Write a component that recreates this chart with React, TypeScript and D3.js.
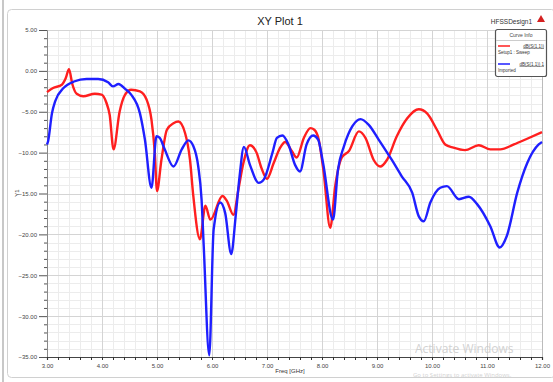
import React, { useRef, useEffect } from "react";
import * as d3 from "d3";

// S11 curves
const redFreq = [
  3.0, 3.11, 3.27, 3.34, 3.4, 3.46, 3.54, 3.66, 3.87, 3.99, 4.08, 4.14, 4.21,
  4.32, 4.42, 4.53, 4.69, 4.81, 4.9, 4.96, 5.0, 5.08, 5.18, 5.3, 5.39, 5.51,
  5.6, 5.66, 5.78, 5.88, 5.97, 6.19, 6.27, 6.39, 6.48, 6.57, 6.69, 6.81, 6.9,
  7.0, 7.12, 7.24, 7.33, 7.45, 7.54, 7.67, 7.79, 7.86, 7.94, 8.03, 8.15, 8.24,
  8.36, 8.49, 8.67, 8.79, 8.94, 9.06, 9.18, 9.36, 9.55, 9.76, 9.91, 10.09,
  10.24, 10.39, 10.6, 10.85, 11.06, 11.24, 11.49, 11.73, 12.0,
];
const redDb = [
  -2.6, -2.1, -1.7, -0.9, 0.2, -1.6, -2.8, -3.1, -2.8, -2.9, -3.9, -5.4, -9.6,
  -5.0, -2.9, -2.3, -2.5, -3.5, -6.0, -10.0, -14.7, -10.9, -7.2, -6.4, -6.2,
  -7.6, -10.9, -15.3, -20.6, -16.5, -18.2, -15.3, -15.9, -17.6, -14.5, -11.3,
  -9.1, -10.0, -11.9, -13.2, -11.3, -9.4, -8.7, -9.8, -10.6, -8.2, -7.0, -7.2,
  -8.4, -12.4, -19.2, -14.1, -10.6, -9.8, -7.4, -8.2, -10.9, -11.7, -10.9,
  -8.0, -5.8, -4.7, -5.2, -7.2, -9.0, -9.4, -9.7, -9.1, -9.6, -9.6, -9.0,
  -8.3, -7.5,
];

const blueFreq = [
  3.0, 3.02, 3.09, 3.15, 3.3, 3.49, 3.72, 3.93, 4.11, 4.2, 4.3, 4.42, 4.53,
  4.69, 4.78, 4.9, 4.99, 5.05, 5.14, 5.3, 5.45, 5.57, 5.66, 5.75, 5.81, 5.85,
  5.95, 6.03, 6.15, 6.24, 6.35, 6.43, 6.5, 6.58, 6.69, 6.85, 6.94, 7.1, 7.18,
  7.28, 7.39, 7.51, 7.6, 7.72, 7.84, 7.93, 8.02, 8.2, 8.29, 8.4, 8.55, 8.7,
  8.85, 9.03, 9.27, 9.45, 9.64, 9.76, 9.85, 9.97, 10.15, 10.27, 10.49, 10.67,
  10.82, 11.06, 11.23, 11.36, 11.55, 11.73, 11.94, 12.0,
];
const blueDb = [
  -9.0, -8.6, -5.2, -3.7, -2.1, -1.3, -1.0, -1.0, -1.4, -1.9, -1.6, -2.2,
  -2.9, -5.2, -8.4, -14.3, -8.0, -8.2, -9.6, -11.7, -9.6, -8.5, -9.2, -11.7,
  -15.7, -21.5, -34.8, -19.4, -16.1, -17.4, -22.4, -17.8, -13.0, -9.3, -11.5,
  -13.7, -13.3, -10.0, -8.2, -7.9, -9.0, -11.5, -12.3, -9.0, -7.9, -8.4,
  -11.3, -18.2, -12.1, -9.2, -6.8, -5.9, -6.6, -8.4, -10.9, -12.9, -14.9,
  -17.8, -18.4, -16.1, -14.3, -14.1, -15.7, -15.4, -16.3, -19.0, -21.6, -20.2,
  -14.9, -11.3, -9.0, -8.7,
];

const xTicks = [3, 4, 5, 6, 7, 8, 9, 10, 11, 12];
const yTicks = [5, 0, -5, -10, -15, -20, -25, -30, -35];

const seriesNames = ["dB(S(1,1))", "dB(S(1,1)) 1"];
const seriesSubs = ["Setup1 : Sweep", "Imported"];
const seriesColors = ["#ff1f1f", "#1f1fff"];

const App = () => {
  const svgRef = useRef(null);

  useEffect(() => {
    const width = 553;
    const height = 382;
    const plot = { left: 47, right: 542, top: 30, bottom: 357 };

    const svg = d3.select(svgRef.current);
    svg.selectAll("*").remove();

    svg
      .append("rect")
      .attr("width", width)
      .attr("height", height)
      .attr("fill", "#ffffff");

    // window edge + outer frame
    svg
      .append("line")
      .attr("x1", 3)
      .attr("x2", 3)
      .attr("y1", 0)
      .attr("y2", height)
      .attr("stroke", "#c8c8c8")
      .attr("stroke-width", 2);
    svg
      .append("rect")
      .attr("x", 7.5)
      .attr("y", 9.5)
      .attr("width", 548)
      .attr("height", 368)
      .attr("rx", 4)
      .attr("fill", "none")
      .attr("stroke", "#d0d0d0");

    const xScale = d3
      .scaleLinear()
      .domain([3, 12])
      .range([plot.left, plot.right]);
    const yScale = d3
      .scaleLinear()
      .domain([-35, 5])
      .range([plot.bottom, plot.top]);

    const grid = svg.append("g");
    // minor grid
    d3.range(3, 12.001, 0.2).forEach((f) => {
      grid
        .append("line")
        .attr("x1", Math.round(xScale(f)) + 0.5)
        .attr("x2", Math.round(xScale(f)) + 0.5)
        .attr("y1", plot.top)
        .attr("y2", plot.bottom)
        .attr("stroke", "#ececec");
    });
    d3.range(-35, 5.001, 1).forEach((v) => {
      grid
        .append("line")
        .attr("x1", plot.left)
        .attr("x2", plot.right)
        .attr("y1", Math.round(yScale(v)) + 0.5)
        .attr("y2", Math.round(yScale(v)) + 0.5)
        .attr("stroke", "#ececec");
    });
    // major grid
    xTicks.forEach((f) => {
      grid
        .append("line")
        .attr("x1", Math.round(xScale(f)) + 0.5)
        .attr("x2", Math.round(xScale(f)) + 0.5)
        .attr("y1", plot.top)
        .attr("y2", plot.bottom)
        .attr("stroke", "#d4d4d4");
    });
    yTicks.forEach((v) => {
      grid
        .append("line")
        .attr("x1", plot.left)
        .attr("x2", plot.right)
        .attr("y1", Math.round(yScale(v)) + 0.5)
        .attr("y2", Math.round(yScale(v)) + 0.5)
        .attr("stroke", "#d4d4d4");
    });

    // Axes
    const yAxis = d3
      .axisLeft(yScale)
      .tickValues(d3.range(-35, 5.001, 1))
      .tickSize(3)
      .tickFormat((d) => (yTicks.includes(d) ? d3.format(".2f")(d) : ""));
    const yAxisGroup = svg
      .append("g")
      .attr("transform", `translate(${plot.left},0)`)
      .style("color", "#555")
      .call(yAxis);
    yAxisGroup
      .selectAll(".tick line")
      .attr("x2", (d) => (yTicks.includes(d) ? -8 : -3));
    yAxisGroup
      .selectAll(".tick text")
      .attr("x", -10)
      .style("font-family", "Arial, 'Liberation Sans', sans-serif")
      .style("font-size", "6px")
      .attr("fill", "#444");
    yAxisGroup.select(".domain").attr("stroke", "#888");

    const xAxis = d3
      .axisBottom(xScale)
      .tickValues(d3.range(3, 12.001, 0.2))
      .tickSize(3)
      .tickFormat((d) =>
        xTicks.some((t) => Math.abs(t - d) < 1e-6) ? d3.format(".2f")(d) : ""
      );
    const xAxisGroup = svg
      .append("g")
      .attr("transform", `translate(0,${plot.bottom})`)
      .style("color", "#333")
      .call(xAxis);
    xAxisGroup
      .selectAll(".tick text")
      .attr("y", 7)
      .style("font-family", "Arial, 'Liberation Sans', sans-serif")
      .style("font-size", "6px")
      .attr("fill", "#444");
    xAxisGroup.select(".domain").attr("stroke", "#444").attr("stroke-width", 1.2);

    // right edge of plot
    svg
      .append("line")
      .attr("x1", plot.right + 0.5)
      .attr("x2", plot.right + 0.5)
      .attr("y1", plot.top)
      .attr("y2", plot.bottom)
      .attr("stroke", "#bbb");

    // Curves
    const lineGenerator = d3
      .line()
      .x((d) => xScale(d[0]))
      .y((d) => yScale(d[1]))
      .curve(d3.curveMonotoneX);

    const redData = redFreq.map((f, i) => [f, redDb[i]]);
    const blueData = blueFreq.map((f, i) => [f, blueDb[i]]);

    [redData, blueData].forEach((data, i) => {
      svg
        .append("path")
        .datum(data)
        .attr("d", lineGenerator)
        .attr("fill", "none")
        .attr("stroke", seriesColors[i])
        .attr("stroke-width", 2.4)
        .attr("stroke-linejoin", "round");
    });

    const font = "Arial, 'Liberation Sans', sans-serif";

    // Titles
    svg
      .append("text")
      .attr("x", 280)
      .attr("y", 25)
      .attr("text-anchor", "middle")
      .style("font-family", font)
      .style("font-size", "11px")
      .attr("fill", "#222")
      .text("XY Plot 1");
    svg
      .append("text")
      .attr("x", 532)
      .attr("y", 24)
      .attr("text-anchor", "end")
      .style("font-family", font)
      .style("font-size", "6.5px")
      .attr("fill", "#333")
      .text("HFSSDesign1");
    svg
      .append("path")
      .attr("d", "M541,15 L545,22 L537,22 Z")
      .attr("fill", "#d42020");
    svg
      .append("text")
      .attr("x", 290)
      .attr("y", 373)
      .attr("text-anchor", "middle")
      .style("font-family", font)
      .style("font-size", "6px")
      .attr("fill", "#333")
      .text("Freq [GHz]");
    svg
      .append("text")
      .attr("transform", "translate(19,193) rotate(-90)")
      .attr("text-anchor", "middle")
      .style("font-family", font)
      .style("font-size", "6px")
      .attr("fill", "#333")
      .text("Y1");

    // Legend
    const legend = svg.append("g").attr("transform", "translate(495,29)");
    legend
      .append("rect")
      .attr("x", 0.5)
      .attr("y", 0.5)
      .attr("width", 51)
      .attr("height", 47)
      .attr("rx", 2)
      .attr("fill", "#fff")
      .attr("stroke", "#555")
      .attr("stroke-width", 1.2);
    legend
      .append("text")
      .attr("x", 26)
      .attr("y", 8)
      .attr("text-anchor", "middle")
      .style("font-family", font)
      .style("font-size", "5px")
      .attr("fill", "#444")
      .text("Curve Info");
    legend
      .append("line")
      .attr("x1", 1)
      .attr("x2", 51)
      .attr("y1", 11.5)
      .attr("y2", 11.5)
      .attr("stroke", "#ccc");
    seriesNames.forEach((name, i) => {
      const y0 = 17 + i * 18;
      legend
        .append("line")
        .attr("x1", 3)
        .attr("x2", 15)
        .attr("y1", y0)
        .attr("y2", y0)
        .attr("stroke", seriesColors[i])
        .attr("stroke-width", 1.5);
      legend
        .append("text")
        .attr("x", 49)
        .attr("y", y0 + 1.5)
        .attr("text-anchor", "end")
        .attr("text-decoration", "underline")
        .style("font-family", font)
        .style("font-size", "4.5px")
        .attr("fill", "#333")
        .text(name);
      legend
        .append("text")
        .attr("x", 3)
        .attr("y", y0 + 8)
        .style("font-family", font)
        .style("font-size", "4.5px")
        .attr("fill", "#333")
        .text(seriesSubs[i]);
    });

    // Windows watermark present in the screenshot
    svg
      .append("text")
      .attr("x", 415)
      .attr("y", 353)
      .style("font-family", "'Open Sans', sans-serif")
      .style("font-size", "12px")
      .attr("fill", "#c8c8c8")
      .attr("opacity", 0.8)
      .text("Activate Windows");
    svg
      .append("text")
      .attr("x", 413)
      .attr("y", 377)
      .style("font-family", "'Open Sans', sans-serif")
      .style("font-size", "6px")
      .attr("fill", "#c8c8c8")
      .attr("opacity", 0.8)
      .text("Go to Settings to activate Windows.");
  }, []);

  return (
    <div style={{ position: "absolute", left: 0, top: 0 }}>
      <svg ref={svgRef} width={553} height={382} style={{ display: "block" }} />
    </div>
  );
};

export default App;
